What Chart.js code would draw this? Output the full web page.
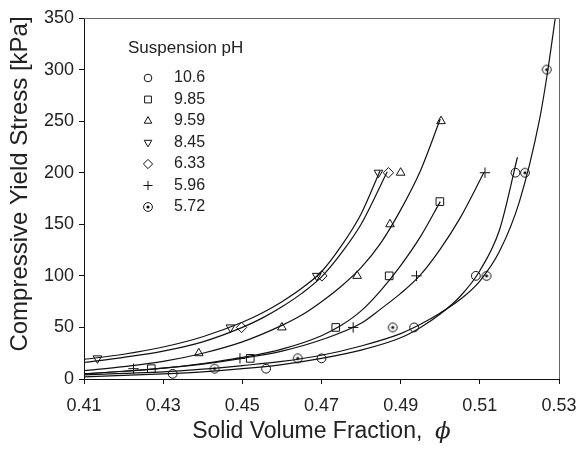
<!DOCTYPE html>
<html>
<head>
<meta charset="utf-8">
<script src="https://cdn.jsdelivr.net/npm/chart.js@4.4.0/dist/chart.umd.min.js"></script>
<style>
  html, body { margin: 0; padding: 0; background: #fff; }
  #wrap { width: 580px; height: 451px; }
</style>
</head>
<body>
<div id="wrap"><canvas id="chart" width="580" height="451"></canvas></div>
<script>
// axis ticks
const xTicks = [0.41, 0.43, 0.45, 0.47, 0.49, 0.51, 0.53];
const yTicks = [0, 50, 100, 150, 200, 250, 300, 350];

// legend labels (suspension pH)
const phLabels = ['10.6', '9.85', '9.59', '8.45', '6.33', '5.96', '5.72'];

// measured points
const ph106X = [0.4324, 0.456, 0.470, 0.4934, 0.509, 0.519];
const ph106Y = [5, 10, 20, 50, 100, 200];
const ph985X = [0.427, 0.452, 0.4736, 0.4871, 0.4999];
const ph985Y = [10, 20, 50, 100, 172];
const ph959X = [0.439, 0.460, 0.479, 0.4873, 0.490, 0.5002];
const ph959Y = [25, 50, 100, 150, 200, 250];
const ph845X = [0.4134, 0.447, 0.4688, 0.4844];
const ph845Y = [20, 50, 100, 200];
const ph633X = [0.4498, 0.4701, 0.4869];
const ph633Y = [50, 100, 200];
const ph596X = [0.4225, 0.4494, 0.478, 0.494, 0.5113];
const ph596Y = [10, 20, 50, 100, 200];
const ph572X = [0.443, 0.464, 0.488, 0.5117, 0.5214, 0.5269];
const ph572Y = [10, 20, 50, 100, 200, 300];

// fitted curves
const fit106X = [0.41, 0.42, 0.43, 0.44, 0.45, 0.46, 0.47, 0.48, 0.49, 0.495, 0.50, 0.505, 0.51, 0.515, 0.5195];
const fit106Y = [2, 3.5, 5, 7, 10, 14, 20, 28, 40, 50, 63, 80, 105, 145, 215];
const fit985X = [0.41, 0.42, 0.43, 0.44, 0.45, 0.46, 0.47, 0.475, 0.48, 0.485, 0.49, 0.495, 0.50];
const fit985Y = [5, 7.5, 10.5, 15, 21, 29, 42, 52, 66, 86, 110, 138, 172];
const fit959X = [0.41, 0.42, 0.43, 0.44, 0.45, 0.46, 0.465, 0.47, 0.475, 0.48, 0.485, 0.49, 0.495, 0.50];
const fit959Y = [8, 12, 17, 25, 36, 52, 62, 75, 90, 108, 132, 164, 202, 252];
const fit845X = [0.41, 0.42, 0.43, 0.44, 0.45, 0.455, 0.46, 0.465, 0.47, 0.475, 0.48, 0.4848];
const fit845Y = [19, 24, 31, 41, 55, 64, 75, 88, 104, 129, 160, 202];
const fit633X = [0.41, 0.42, 0.43, 0.44, 0.45, 0.455, 0.46, 0.465, 0.47, 0.475, 0.48, 0.4866];
const fit633Y = [16, 21, 27, 36, 50, 59, 70, 83, 99, 122, 150, 201];
const fit596X = [0.41, 0.42, 0.43, 0.44, 0.45, 0.46, 0.47, 0.48, 0.485, 0.49, 0.495, 0.50, 0.505, 0.511];
const fit596Y = [5, 7.5, 10.5, 14.5, 20, 27, 38, 54, 68, 83, 101, 126, 156, 200];
const fit572X = [0.41, 0.42, 0.43, 0.44, 0.45, 0.46, 0.47, 0.48, 0.49, 0.495, 0.50, 0.505, 0.51, 0.515, 0.52, 0.525, 0.527, 0.5295];
const fit572Y = [4, 5.5, 7, 9.5, 13, 17, 23, 32, 44, 53, 64, 77, 95, 124, 172, 250, 295, 362];

const INK = '#111';
const TEXT = '#222';
const FONT = "'Liberation Sans', Arial, sans-serif";

const zip = (xs, ys) => xs.map((x, i) => ({ x, y: ys[i] }));

// circle with a dot in the middle
function dotCircle(r) {
    const s = Math.ceil(r * 2 + 3);
    const c = document.createElement('canvas');
    c.width = s; c.height = s;
    const g = c.getContext('2d');
    g.strokeStyle = INK;
    g.lineWidth = 1;
    g.beginPath();
    g.arc(s / 2, s / 2, r, 0, Math.PI * 2);
    g.stroke();
    g.fillStyle = INK;
    g.beginPath();
    g.arc(s / 2, s / 2, 1.6, 0, Math.PI * 2);
    g.fill();
    return c;
}

const markerStyles = [
    { pointStyle: 'circle', radius: 4.4, rotation: 0 },
    { pointStyle: 'rect', radius: 5.4, rotation: 0 },
    { pointStyle: 'triangle', radius: 5, rotation: 0 },
    { pointStyle: 'triangle', radius: 5, rotation: 180 },
    { pointStyle: 'rectRot', radius: 5.2, rotation: 0 },
    { pointStyle: 'cross', radius: 5.2, rotation: 0 },
    { pointStyle: dotCircle(4.4), radius: 4.4, rotation: 0 },
];

const pointSets = [
    zip(ph106X, ph106Y), zip(ph985X, ph985Y), zip(ph959X, ph959Y), zip(ph845X, ph845Y),
    zip(ph633X, ph633Y), zip(ph596X, ph596Y), zip(ph572X, ph572Y),
];
const curveSets = [
    zip(fit106X, fit106Y), zip(fit985X, fit985Y), zip(fit959X, fit959Y), zip(fit845X, fit845Y),
    zip(fit633X, fit633Y), zip(fit596X, fit596Y), zip(fit572X, fit572Y),
];

const datasets = [];
curveSets.forEach((data, i) => {
    datasets.push({
        label: 'fit ' + phLabels[i],
        data,
        showLine: true,
        borderColor: INK,
        borderWidth: 1.2,
        pointRadius: 0,
        pointHoverRadius: 0,
        tension: 0.4,
        cubicInterpolationMode: 'monotone',
        fill: false,
    });
});
pointSets.forEach((data, i) => {
    const m = markerStyles[i];
    datasets.push({
        label: phLabels[i],
        data,
        showLine: false,
        pointStyle: m.pointStyle,
        pointRadius: m.radius,
        pointRotation: m.rotation,
        pointBorderColor: INK,
        pointBackgroundColor: 'rgba(0,0,0,0)',
        pointBorderWidth: 1,
    });
});

// frame, axis titles and the in-plot legend
const extras = {
    id: 'extras',
    afterDraw(chart) {
        const { ctx, chartArea: a } = chart;
        ctx.save();
        ctx.strokeStyle = '#666';
        ctx.lineWidth = 1;
        ctx.beginPath();
        ctx.moveTo(a.left, a.top + 0.5);
        ctx.lineTo(a.right + 0.5, a.top + 0.5);
        ctx.lineTo(a.right + 0.5, a.bottom);
        ctx.stroke();

        ctx.fillStyle = TEXT;
        ctx.textBaseline = 'middle';

        // x title with italic phi
        const t1 = 'Solid Volume Fraction,  ';
        ctx.font = `23px ${FONT}`;
        const w1 = ctx.measureText(t1).width;
        ctx.font = `italic 23px 'DejaVu Serif', serif`;
        const w2 = ctx.measureText('\u03d5').width;
        let x0 = (a.left + a.right) / 2 - (w1 + w2) / 2;
        ctx.textAlign = 'left';
        ctx.font = `23px ${FONT}`;
        ctx.fillText(t1, x0, 432);
        ctx.font = `italic 23px 'DejaVu Serif', serif`;
        ctx.fillText('\u03d5', x0 + w1, 432);

        // y title
        ctx.save();
        ctx.translate(20, 184);
        ctx.rotate(-Math.PI / 2);
        ctx.textAlign = 'center';
        ctx.font = `24px ${FONT}`;
        ctx.fillText('Compressive Yield Stress [kPa]', 0, 0);
        ctx.restore();

        // legend
        ctx.font = `17px ${FONT}`;
        ctx.textAlign = 'left';
        ctx.fillText('Suspension pH', 128, 48);
        ctx.font = `16px ${FONT}`;
        phLabels.forEach((lab, i) => {
            const y = 78 + i * 21.5;
            const m = markerStyles[i];
            ctx.strokeStyle = INK;
            ctx.fillStyle = 'rgba(0,0,0,0)';
            ctx.lineWidth = 1;
            Chart.helpers.drawPoint(ctx, {
                pointStyle: m.pointStyle, radius: m.radius - 0.6, rotation: m.rotation, borderWidth: 1,
            }, 148, y);
            ctx.fillStyle = TEXT;
            ctx.fillText(lab, 174, y);
        });
        ctx.restore();
    },
};

new Chart(document.getElementById('chart'), {
    type: 'scatter',
    data: { datasets },
    options: {
        responsive: false,
        animation: false,
        devicePixelRatio: 1,
        layout: { padding: { top: 18, right: 21, left: 0, bottom: 0 } },
        plugins: { legend: { display: false }, tooltip: { enabled: false } },
        scales: {
            x: {
                type: 'linear',
                min: 0.41,
                max: 0.53,
                afterBuildTicks: s => { s.ticks = xTicks.map(v => ({ value: v })); },
                afterFit: s => { s.height = 72; s.paddingLeft = 0; s.paddingRight = 0; },
                grid: { drawOnChartArea: false, drawTicks: true, tickLength: 5, color: INK },
                border: { display: true, color: INK, width: 1 },
                ticks: {
                    color: TEXT, padding: 11, maxRotation: 0,
                    font: { family: FONT, size: 18 },
                    callback: v => v.toFixed(2),
                },
            },
            y: {
                type: 'linear',
                min: 0,
                max: 350,
                afterBuildTicks: s => { s.ticks = yTicks.map(v => ({ value: v })); },
                afterFit: s => { s.width = 84; s.paddingTop = 0; s.paddingBottom = 0; },
                grid: { drawOnChartArea: false, drawTicks: true, tickLength: 5, color: INK },
                border: { display: true, color: INK, width: 1 },
                ticks: {
                    color: TEXT, padding: 5,
                    font: { family: FONT, size: 18 },
                },
            },
        },
    },
    plugins: [extras],
});
</script>
</body>
</html>
